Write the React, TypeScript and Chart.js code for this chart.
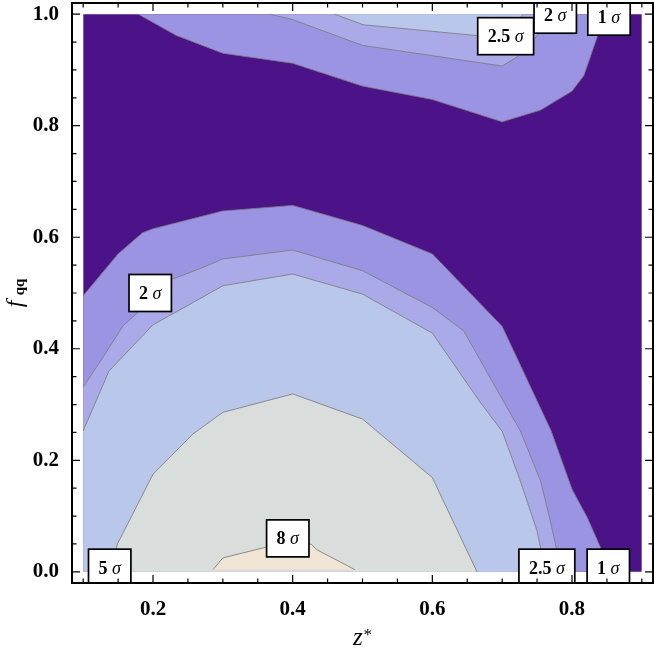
import React, { useEffect, useRef } from "react";
import { Chart, registerables } from "chart.js";

Chart.register(...registerables);

type Pt = [number, number];

// Contour boundaries (z*, f_qq)
const oneSigmaUpper: Pt[] = [
  [0.179, 1.0], [0.233, 0.962], [0.3, 0.93], [0.4, 0.912], [0.5, 0.871], [0.6, 0.847],
  [0.7, 0.807], [0.755, 0.828], [0.8, 0.862], [0.817, 0.89], [0.836, 0.959], [0.848, 1.0],
];
const oneSigmaLower: Pt[] = [
  [0.1, 0.495], [0.15, 0.57], [0.185, 0.608], [0.2, 0.615], [0.3, 0.647], [0.4, 0.657],
  [0.5, 0.621], [0.6, 0.57], [0.7, 0.44], [0.77, 0.253], [0.8, 0.148], [0.822, 0.097],
  [0.841, 0.043], [0.85, 0.0],
];
const twoSigmaUpper: Pt[] = [
  [0.367, 1.0], [0.398, 0.991], [0.5, 0.944], [0.7, 0.907], [0.721, 0.923], [0.755, 0.968], [0.776, 1.0],
];
const twoSigmaLower: Pt[] = [
  [0.1, 0.331], [0.128, 0.384], [0.157, 0.441], [0.2, 0.49], [0.228, 0.525], [0.266, 0.543],
  [0.3, 0.561], [0.4, 0.577], [0.5, 0.54], [0.6, 0.474], [0.645, 0.432], [0.7, 0.31],
  [0.726, 0.253], [0.755, 0.163], [0.769, 0.091], [0.778, 0.04], [0.782, 0.0],
];
const twoHalfSigmaUpper: Pt[] = [
  [0.46, 1.0], [0.501, 0.981], [0.669, 0.961], [0.705, 0.96], [0.73, 1.0],
];
const twoHalfSigmaLower: Pt[] = [
  [0.1, 0.253], [0.137, 0.36], [0.2, 0.443], [0.266, 0.489], [0.3, 0.513], [0.4, 0.534],
  [0.5, 0.498], [0.6, 0.428], [0.668, 0.305], [0.7, 0.252], [0.726, 0.163], [0.75, 0.073], [0.762, 0.0],
];
const fiveSigma: Pt[] = [
  [0.14, 0.0], [0.149, 0.05], [0.2, 0.175], [0.257, 0.247], [0.3, 0.286], [0.4, 0.319],
  [0.5, 0.274], [0.6, 0.169], [0.664, 0.0],
];
const eightSigma: Pt[] = [
  [0.286, 0.004], [0.3, 0.025], [0.358, 0.043], [0.4, 0.058], [0.427, 0.049], [0.434, 0.04], [0.489, 0.004],
];
const domainTop: Pt[] = [[0.1, 1.0], [0.9, 1.0]];

// Axis ticks
const xTicks = [0.2, 0.4, 0.6, 0.8];
const yTicks = [0.0, 0.2, 0.4, 0.6, 0.8, 1.0];
const xMinorTicks = [0.1, 0.15, 0.25, 0.3, 0.35, 0.45, 0.5, 0.55, 0.65, 0.7, 0.75, 0.85, 0.9];
const yMinorTicks = [0.05, 0.1, 0.15, 0.25, 0.3, 0.35, 0.45, 0.5, 0.55, 0.65, 0.7, 0.75, 0.85, 0.9, 0.95];

// Contour labels
const labelValues = ["2", "2.5", "2", "1", "5", "8", "2.5", "1"];
const labelZ = [0.196, 0.705, 0.776, 0.853, 0.138, 0.393, 0.764, 0.852];
const labelF = [0.5, 0.9605, 0.999, 0.9955, 0.0075, 0.06, 0.0075, 0.0075];

const COLORS = {
  dark: "#4b1387",
  one: "#9b94e2",
  two: "#a9aae7",
  twoHalf: "#b9c8ea",
  five: "#d9dddc",
  eight: "#f1e5d3",
  line: "rgba(125,125,125,0.85)",
};

const SERIF = "'Liberation Serif', 'Times New Roman', serif";

function ds(pts: Pt[], color: string, fillValue: number, order: number, border = true) {
  return {
    data: pts.map(([x, y]) => ({ x, y })),
    showLine: true,
    pointRadius: 0,
    pointHoverRadius: 0,
    borderColor: border ? COLORS.line : "rgba(0,0,0,0)",
    borderWidth: border ? 1 : 0,
    backgroundColor: color,
    fill: { value: fillValue },
    tension: 0,
    order,
  };
}

const decorPlugin = {
  id: "decor",
  afterDraw(chart: any) {
    const { ctx, chartArea: a } = chart;
    const xs = chart.scales.x;
    const ys = chart.scales.y;

    // contour labels, clipped to the frame
    ctx.save();
    ctx.beginPath();
    ctx.rect(a.left, a.top, a.right - a.left, a.bottom - a.top);
    ctx.clip();
    const numFont = `bold 18px ${SERIF}`;
    const sigFont = `italic 18px ${SERIF}`;
    for (let i = 0; i < labelValues.length; i++) {
      const num = labelValues[i] + " ";
      ctx.font = numFont;
      const w1 = ctx.measureText(num).width;
      ctx.font = sigFont;
      const w2 = ctx.measureText("σ").width;
      const tw = w1 + w2;
      const w = tw + 20;
      const h = 37;
      const cx = xs.getPixelForValue(labelZ[i]);
      const cy = ys.getPixelForValue(labelF[i]);
      ctx.fillStyle = "#fff";
      ctx.fillRect(cx - w / 2, cy - h / 2, w, h);
      ctx.strokeStyle = "#000";
      ctx.lineWidth = 1.7;
      ctx.strokeRect(cx - w / 2, cy - h / 2, w, h);
      ctx.fillStyle = "#000";
      ctx.textBaseline = "alphabetic";
      ctx.textAlign = "left";
      ctx.font = numFont;
      ctx.fillText(num, cx - tw / 2, cy + 6);
      ctx.font = sigFont;
      ctx.fillText("σ", cx - tw / 2 + w1, cy + 6);
    }
    ctx.restore();

    // frame and inward ticks
    ctx.save();
    ctx.strokeStyle = "#000";
    ctx.lineWidth = 2;
    ctx.strokeRect(a.left, a.top, a.right - a.left, a.bottom - a.top);
    ctx.lineWidth = 1.2;
    const drawX = (v: number, len: number) => {
      const p = xs.getPixelForValue(v);
      ctx.beginPath();
      ctx.moveTo(p, a.bottom);
      ctx.lineTo(p, a.bottom - len);
      ctx.moveTo(p, a.top);
      ctx.lineTo(p, a.top + len);
      ctx.stroke();
    };
    const drawY = (v: number, len: number) => {
      const p = ys.getPixelForValue(v);
      ctx.beginPath();
      ctx.moveTo(a.left, p);
      ctx.lineTo(a.left + len, p);
      ctx.moveTo(a.right, p);
      ctx.lineTo(a.right - len, p);
      ctx.stroke();
    };
    xTicks.forEach((v) => drawX(v, 8));
    xMinorTicks.forEach((v) => drawX(v, 4.5));
    yTicks.forEach((v) => drawY(v, 8));
    yMinorTicks.forEach((v) => drawY(v, 4.5));
    ctx.restore();

    // axis titles
    ctx.save();
    ctx.fillStyle = "#000";
    ctx.textBaseline = "alphabetic";
    ctx.textAlign = "left";
    // x title: z*
    const cxT = (a.left + a.right) / 2;
    ctx.font = `italic 25px ${SERIF}`;
    const wz = ctx.measureText("z").width;
    ctx.font = `17px ${SERIF}`;
    const ws = ctx.measureText("*").width;
    const startX = cxT - (wz + ws + 1) / 2;
    const baseX = a.bottom + 62;
    ctx.font = `italic 25px ${SERIF}`;
    ctx.fillText("z", startX, baseX);
    ctx.font = `17px ${SERIF}`;
    ctx.fillText("*", startX + wz + 1, baseX - 5);
    // y title: f_qq
    const cyT = (a.top + a.bottom) / 2;
    ctx.translate(a.left - 50, cyT);
    ctx.rotate(-Math.PI / 2);
    ctx.font = `bold 15px ${SERIF}`;
    const wq = ctx.measureText("qq").width;
    const total = 12 + wq;
    const s0 = -total / 2;
    ctx.font = `italic 24px ${SERIF}`;
    ctx.fillText("f", s0, 0);
    ctx.font = `bold 15px ${SERIF}`;
    ctx.fillText("qq", s0 + 12, 2);
    ctx.restore();
  },
};

export default function App() {
  const ref = useRef<HTMLCanvasElement | null>(null);

  useEffect(() => {
    if (!ref.current) return;
    const tickFont = { family: SERIF, size: 21, weight: "bold" as const };
    const chart = new Chart(ref.current, {
      type: "scatter",
      data: {
        datasets: [
          ds(domainTop, COLORS.dark, 0, 20, false),
          ds(oneSigmaUpper, COLORS.one, 1, 19),
          ds(oneSigmaLower, COLORS.one, 0, 19),
          ds(twoSigmaUpper, COLORS.two, 1, 18),
          ds(twoSigmaLower, COLORS.two, 0, 18),
          ds(twoHalfSigmaUpper, COLORS.twoHalf, 1, 17),
          ds(twoHalfSigmaLower, COLORS.twoHalf, 0, 17),
          ds(fiveSigma, COLORS.five, 0, 16),
          ds(eightSigma, COLORS.eight, 0.004, 15),
        ] as any,
      },
      options: {
        responsive: false,
        animation: false,
        events: [],
        layout: { padding: { top: 3, right: 1, left: 0, bottom: 0 } },
        plugins: { legend: { display: false }, tooltip: { enabled: false } },
        scales: {
          x: {
            type: "linear",
            min: 0.084,
            max: 0.916,
            grid: { display: false },
            border: { display: false },
            afterBuildTicks: (s: any) => {
              s.ticks = xTicks.map((v) => ({ value: v }));
            },
            afterFit: (s: any) => {
              s.height = 66;
              s.paddingLeft = 0;
              s.paddingRight = 0;
            },
            ticks: {
              font: tickFont,
              color: "#000",
              padding: 6,
              maxRotation: 0,
              autoSkip: false,
              callback: (v: any) => Number(v).toFixed(1),
            },
          },
          y: {
            type: "linear",
            min: -0.02,
            max: 1.02,
            grid: { display: false },
            border: { display: false },
            afterBuildTicks: (s: any) => {
              s.ticks = yTicks.map((v) => ({ value: v }));
            },
            afterFit: (s: any) => {
              s.width = 72;
              s.paddingTop = 0;
              s.paddingBottom = 0;
            },
            ticks: {
              font: tickFont,
              color: "#000",
              padding: 5,
              autoSkip: false,
              callback: (v: any) => Number(v).toFixed(1),
            },
          },
        },
      } as any,
      plugins: [decorPlugin],
    });
    return () => chart.destroy();
  }, []);

  return (
    <div style={{ position: "absolute", left: 0, top: 0, width: 654, height: 649 }}>
      <canvas ref={ref} width={654} height={649} />
    </div>
  );
}
